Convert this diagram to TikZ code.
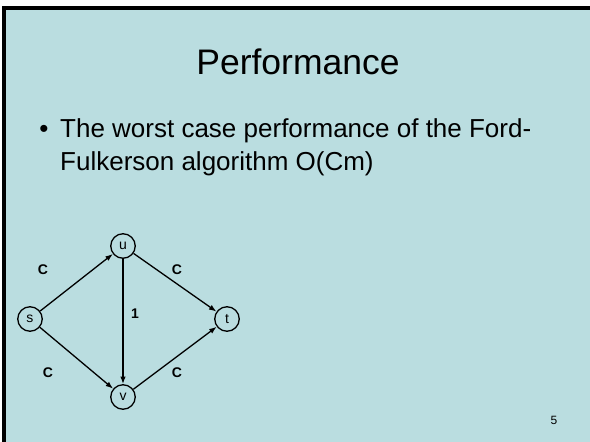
\documentclass[tikz,border=0pt]{standalone}
\usepackage{fontspec}
\setmainfont{Liberation Sans}
\usetikzlibrary{arrows.meta}
\definecolor{slidebg}{RGB}{186,221,224}
\begin{document}
\begin{tikzpicture}[
        x=1pt, y=-1pt,
        vertex/.style={circle, draw, line width=1.3pt, minimum size=24.5pt, inner sep=0pt,
            font=\fontsize{14}{16}\selectfont},
        weight/.style={font=\fontsize{14}{16}\selectfont\bfseries},
        arrow/.style={-{Latex[length=7.5pt,width=5.5pt]}, line width=1.3pt}
    ]
        \useasboundingbox (0,0) rectangle (590,442);
        \fill[white] (0,0) rectangle (590,442);
        \fill[black] (2,6) rectangle (590,442);
        \fill[slidebg] (5.5,9.5) rectangle (590,442);
        % title and bullet
        \node[anchor=base, font=\fontsize{35.5}{42}\selectfont] (title) at (298,74) {Performance};
        \node[anchor=base, font=\fontsize{26}{31}\selectfont] (bullet) at (44,137) {•};
        \node[anchor=base west, inner sep=0pt, font=\fontsize{26}{31}\selectfont] (line1) at (60,137)
            {The worst case performance of the Ford-};
        \node[anchor=base west, inner sep=0pt, font=\fontsize{26}{31}\selectfont] (line2) at (60,170)
            {Fulkerson algorithm O(Cm)};
        % graph
        \node[vertex] (s) at (30,319) {s};
        \node[vertex] (u) at (123,246) {u};
        \node[vertex] (t) at (227,319) {t};
        \node[vertex] (v) at (123,397) {v};
        \draw[arrow] (s) -- (u);
        \draw[arrow] (s) -- (v);
        \draw[arrow] (u) -- (t);
        \draw[arrow] (v) -- (t);
        \draw[arrow] (u) -- (v);
        \node[weight] (csu) at (43,270) {C};
        \node[weight] (cut) at (177,270) {C};
        \node[weight] (cuv) at (135,314) {1};
        \node[weight] (csv) at (48,373) {C};
        \node[weight] (cvt) at (177,373) {C};
        \node[font=\fontsize{12}{14}\selectfont] (page) at (554,420) {5};
    \end{tikzpicture}
\end{document}
